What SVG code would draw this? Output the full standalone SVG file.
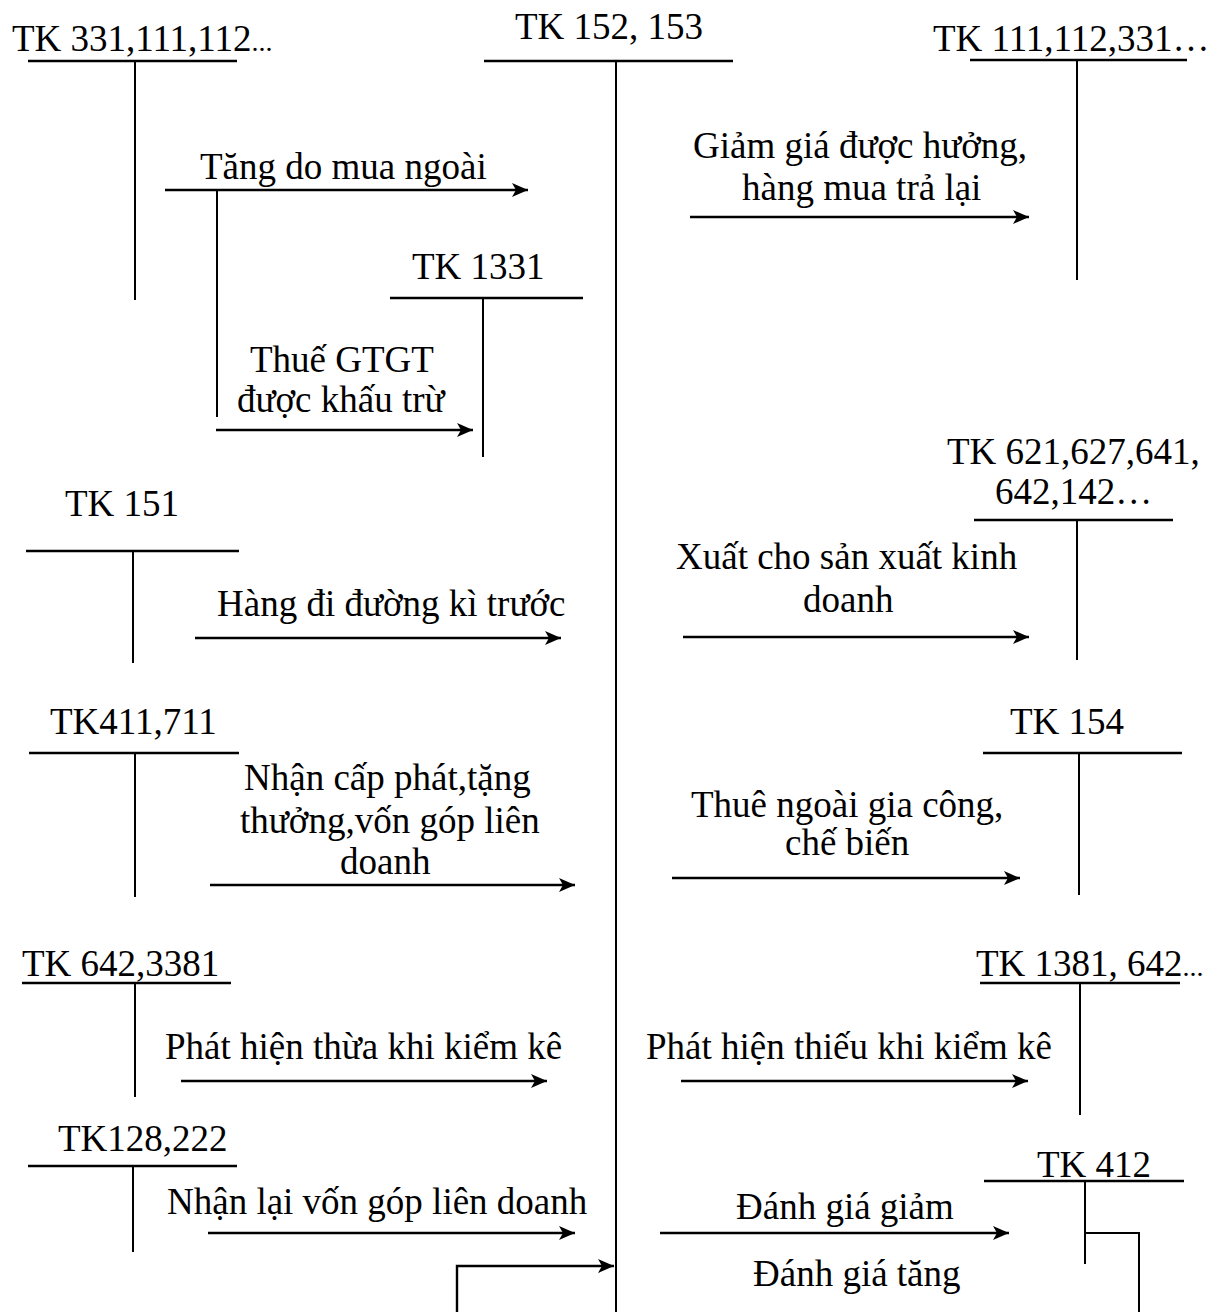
<svg xmlns="http://www.w3.org/2000/svg" width="1226" height="1312" viewBox="0 0 1226 1312">
<defs>
<style>
text{font-family:"Liberation Serif","Times New Roman",serif;font-size:37px;fill:#000}
.sm{font-size:28px}
line,polyline{stroke:#000;stroke-width:2;fill:none}
.h{stroke-width:2.5}
.a{marker-end:url(#arr);stroke-width:2.4}
</style>
<marker id="arr" markerUnits="userSpaceOnUse" markerWidth="18" markerHeight="16" refX="16" refY="7" orient="auto">
<path d="M0,0 L16,7 L0,14 L4,7 z" fill="#000"/>
</marker>
</defs>
<rect width="1226" height="1312" fill="#fff"/>
<g id="tk331"><text x="12" y="51">TK 331,111,112<tspan class="sm">...</tspan></text><line class="h" x1="28" y1="61" x2="237" y2="61"/><line x1="135" y1="61" x2="135" y2="300"/></g>
<g id="tk152"><text x="515" y="39">TK 152, 153</text><line class="h" x1="484" y1="61" x2="733" y2="61"/><line x1="616" y1="61" x2="616" y2="1312"/></g>
<g id="tk111"><text x="933" y="51">TK 111,112,331…</text><line class="h" x1="970" y1="60" x2="1187" y2="60"/><line x1="1077" y1="60" x2="1077" y2="280"/></g>
<g id="tk1331"><text x="412" y="279">TK 1331</text><line class="h" x1="390" y1="298" x2="583" y2="298"/><line x1="483" y1="298" x2="483" y2="457"/></g>
<g id="tk151"><text x="65" y="516">TK 151</text><line class="h" x1="26" y1="551" x2="239" y2="551"/><line x1="133" y1="551" x2="133" y2="663"/></g>
<g id="tk621"><text x="947" y="464">TK 621,627,641,</text><text x="995" y="504">642,142…</text><line class="h" x1="974" y1="520" x2="1173" y2="520"/><line x1="1077" y1="520" x2="1077" y2="660"/></g>
<g id="tk411"><text x="50" y="734">TK411,711</text><line class="h" x1="29" y1="753" x2="239" y2="753"/><line x1="135" y1="753" x2="135" y2="897"/></g>
<g id="tk154"><text x="1010" y="734">TK 154</text><line class="h" x1="983" y1="753" x2="1182" y2="753"/><line x1="1079" y1="753" x2="1079" y2="895"/></g>
<g id="tk642"><text x="22" y="976">TK 642,3381</text><line class="h" x1="22" y1="983" x2="231" y2="983"/><line x1="135" y1="983" x2="135" y2="1097"/></g>
<g id="tk1381"><text x="976" y="976">TK 1381, 642<tspan class="sm">...</tspan></text><line class="h" x1="980" y1="983" x2="1180" y2="983"/><line x1="1080" y1="983" x2="1080" y2="1115"/></g>
<g id="tk128"><text x="58" y="1151">TK128,222</text><line class="h" x1="28" y1="1166" x2="237" y2="1166"/><line x1="133" y1="1166" x2="133" y2="1252"/></g>
<g id="tk412"><text x="1037" y="1177">TK 412</text><line class="h" x1="984" y1="1181" x2="1184" y2="1181"/><line x1="1085" y1="1181" x2="1085" y2="1264"/></g>
<g id="connectors">
<line class="a" x1="165" y1="190" x2="528" y2="190"/>
<line x1="217" y1="190" x2="217" y2="417"/>
<line class="a" x1="216" y1="430" x2="473" y2="430"/>
<line class="a" x1="690" y1="217" x2="1029" y2="217"/>
<line class="a" x1="195" y1="638" x2="561" y2="638"/>
<line class="a" x1="683" y1="637" x2="1029" y2="637"/>
<line class="a" x1="210" y1="885" x2="575" y2="885"/>
<line class="a" x1="672" y1="878" x2="1020" y2="878"/>
<line class="a" x1="181" y1="1081" x2="547" y2="1081"/>
<line class="a" x1="681" y1="1081" x2="1028" y2="1081"/>
<line class="a" x1="208" y1="1233" x2="575" y2="1233"/>
<line class="a" x1="660" y1="1233" x2="1009" y2="1233"/>
<polyline points="1139,1312 1139,1233 1085,1233"/>
<polyline class="a" points="457,1312 457,1266 614,1266"/>
</g>
<g id="labels">
<text x="200" y="179">Tăng do mua ngoài</text>
<text x="250" y="372">Thuế GTGT</text>
<text x="237" y="412">được khấu trừ</text>
<text x="693" y="158">Giảm giá được hưởng,</text>
<text x="742" y="200">hàng mua trả lại</text>
<text x="217" y="616">Hàng đi đường kì trước</text>
<text x="676" y="569">Xuất cho sản xuất kinh</text>
<text x="803" y="612">doanh</text>
<text x="244" y="790">Nhận cấp phát,tặng</text>
<text x="240" y="833">thưởng,vốn góp liên</text>
<text x="340" y="874">doanh</text>
<text x="691" y="817">Thuê ngoài gia công,</text>
<text x="785" y="855">chế biến</text>
<text x="165" y="1059">Phát hiện thừa khi kiểm kê</text>
<text x="646" y="1059">Phát hiện thiếu khi kiểm kê</text>
<text x="167" y="1214">Nhận lại vốn góp liên doanh</text>
<text x="736" y="1219">Đánh giá giảm</text>
<text x="753" y="1286">Đánh giá tăng</text>
</g>
</svg>
